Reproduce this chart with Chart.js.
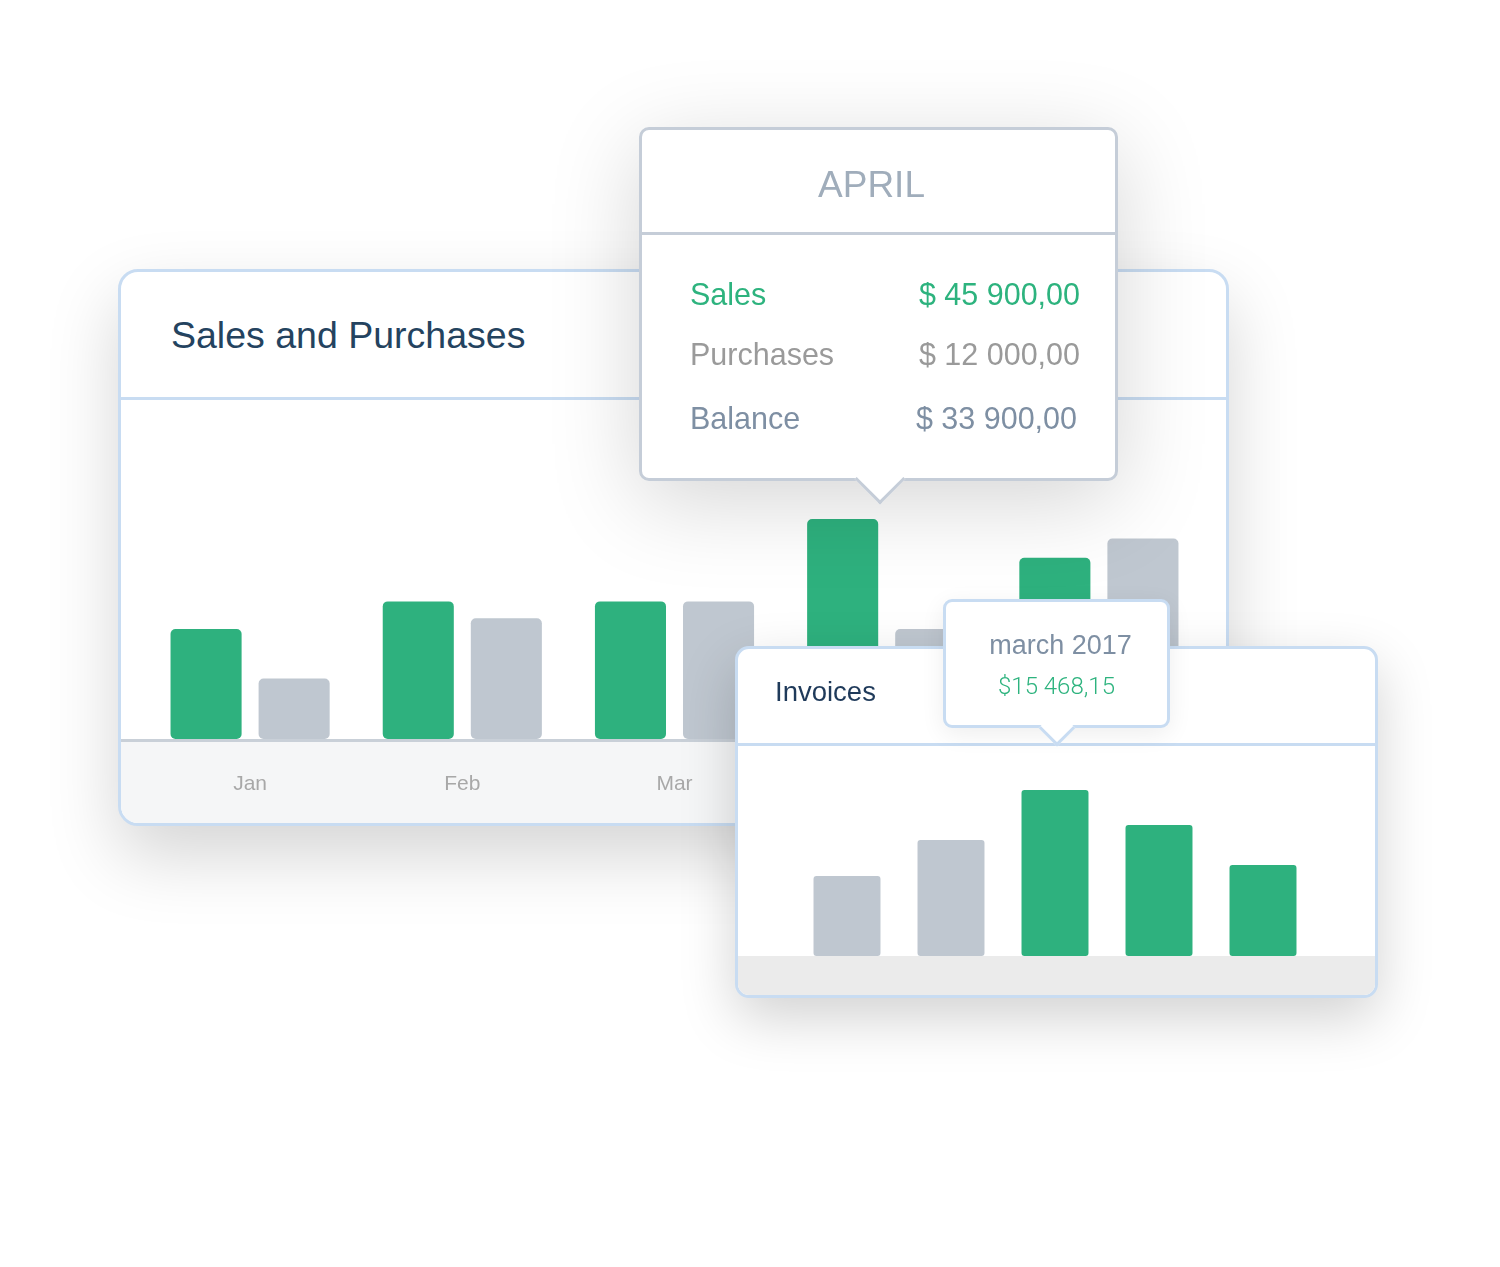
<!DOCTYPE html>
<html>
<head>
<meta charset="utf-8">
<script src="https://cdn.jsdelivr.net/npm/chart.js@4/dist/chart.umd.min.js"></script>
<style>
  html, body { margin:0; padding:0; background:#fff; }
  body { width:1500px; height:1267px; position:relative; overflow:hidden; font-family:"Liberation Sans", Arial, sans-serif; }
  .card { position:absolute; box-sizing:border-box; background:#fff; }
  #main { left:118px; top:269px; width:1111px; height:557px; border:3px solid #c8dcf2; border-radius:20px; box-shadow:0 30px 70px rgba(0,0,0,0.17); overflow:hidden; }
  #main .hdr { position:absolute; left:0; top:0; right:0; height:125px; border-bottom:3px solid #c8dcf2; }
  #main .title { position:absolute; left:50px; top:42px; font-size:37.5px; color:#24435f; white-space:nowrap; }
  #main .band { position:absolute; left:0; right:0; top:467px; bottom:0; background:#f5f6f7; border-top:3px solid #c9d0d8; }
  #mainWrap { position:absolute; left:23px; top:128px; width:1064px; height:423px; }
  #tip { left:639px; top:127px; width:479px; height:354px; border:3px solid #c5cdd8; border-radius:10px; box-shadow:0 20px 90px rgba(0,0,0,0.17); }
  #tip .hdr { position:absolute; left:0; top:0; right:0; height:102px; border-bottom:3px solid #c5cdd8; }
  #tip .head { position:absolute; left:0; right:14px; top:34px; text-align:center; font-size:37px; color:#a0adbb; }
  #tip .row { position:absolute; left:48px; right:35px; font-size:30.5px; }
  #tip .row span { position:absolute; }
  #tip .row .l { left:0; }
  #tip .row .v { right:0; }
  .ptr { position:absolute; background:#fff; transform:rotate(45deg); box-sizing:border-box; }
  #inv { left:735px; top:646px; width:643px; height:352px; border:3px solid #c8dcf2; border-radius:14px; box-shadow:0 20px 55px rgba(0,0,0,0.18); overflow:hidden; }
  #inv .hdr { position:absolute; left:0; top:0; right:0; height:94px; border-bottom:3px solid #c8dcf2; }
  #inv .title { position:absolute; left:37px; top:27px; font-size:27.5px; color:#1f3a5a; }
  #inv .band { position:absolute; left:0; right:0; top:307px; bottom:0; background:#ebebeb; }
  #invWrap { position:absolute; left:57px; top:96px; width:520px; height:211px; }
  #tip2 { left:943px; top:599px; width:227px; height:129px; border:3px solid #c8dcf2; border-radius:9px; box-shadow:0 6px 24px rgba(0,0,0,0.07); }
  #tip2 .a { position:absolute; left:8px; right:0; top:28px; text-align:center; font-size:27px; color:#7e8fa3; }
  #tip2 .b { position:absolute; left:0; right:0; top:70px; text-align:center; font-size:24px; color:#2db37e; font-family:Roboto, "Liberation Sans", sans-serif; font-weight:300; }
</style>
</head>
<body>
<div class="card" id="main">
  <div class="hdr"><div class="title">Sales and Purchases</div></div>
  <div class="band"></div>
  <div id="mainWrap"><canvas id="mainChart" width="1064" height="423"></canvas></div>
</div>

<div class="card" id="tip">
  <div class="hdr"><div class="head" id="tipHead"></div></div>
  <div id="tipRows"></div>
  <div class="ptr" style="width:36px; height:36px; left:220px; top:331px; border-right:3px solid #c5cdd8; border-bottom:3px solid #c5cdd8;"></div>
</div>

<div class="card" id="inv">
  <div class="hdr"><div class="title">Invoices</div></div>
  <div class="band"></div>
  <div id="invWrap"><canvas id="invChart" width="520" height="211"></canvas></div>
</div>

<div class="card" id="tip2">
  <div class="a" id="tip2Head"></div>
  <div class="b" id="tip2Val"></div>
  <div class="ptr" style="width:26px; height:26px; left:98px; top:113px; border-right:3px solid #c8dcf2; border-bottom:3px solid #c8dcf2;"></div>
</div>

<script>
// ---- Sales and Purchases data ----
const months = ["Jan", "Feb", "Mar", "Apr", "May"];
const sales = [22950, 28700, 28700, 45900, 37800];
const purchases = [12600, 25200, 28700, 22950, 41800];

// ---- April tooltip contents ----
const tipTitle = "APRIL";
const tipLabels = ["Sales", "Purchases", "Balance"];
const tipValues = ["$ 45 900,00", "$ 12 000,00", "$ 33 900,00"];

// ---- Invoices data ----
const invoiceMonths = ["january 2017", "february 2017", "march 2017", "april 2017", "may 2017"];
const invoiceValues = [7455, 10810, 15468.15, 12207, 8480];
const invoiceTipLabel = "march 2017";
const invoiceTipValue = "$15 468,15";

const GREEN = "#2eb17e";
const GREY = "#bfc7d0";

// tooltip DOM
document.getElementById("tipHead").textContent = tipTitle;
const rowStyles = [
  {top: 147, color: "#2db37e", vr: 35},
  {top: 207, color: "#9a9a9a", vr: 35},
  {top: 271, color: "#7e8fa3", vr: 38}
];
const rowsEl = document.getElementById("tipRows");
tipLabels.forEach((lab, i) => {
  const r = document.createElement("div");
  r.className = "row";
  r.style.top = rowStyles[i].top + "px";
  r.style.color = rowStyles[i].color;
  r.style.right = rowStyles[i].vr + "px";
  const l = document.createElement("span"); l.className = "l"; l.textContent = lab;
  const v = document.createElement("span"); v.className = "v"; v.textContent = tipValues[i];
  r.appendChild(l); r.appendChild(v);
  rowsEl.appendChild(r);
});
document.getElementById("tip2Head").textContent = invoiceTipLabel;
document.getElementById("tip2Val").textContent = invoiceTipValue;

new Chart(document.getElementById("mainChart"), {
  type: "bar",
  data: {
    labels: months,
    datasets: [
      { label: "Sales", data: sales, backgroundColor: GREEN, borderRadius: 5, borderSkipped: false,
        categoryPercentage: 0.83, barPercentage: 0.807 },
      { label: "Purchases", data: purchases, backgroundColor: GREY, borderRadius: 5, borderSkipped: false,
        categoryPercentage: 0.83, barPercentage: 0.807 }
    ]
  },
  options: {
    responsive: false,
    animation: false,
    layout: { padding: { left: 0, right: 3, top: 0, bottom: 0 } },
    plugins: { legend: { display: false }, tooltip: { enabled: false } },
    scales: {
      y: { display: false, min: 0, max: 70700 },
      x: {
        grid: { display: false },
        border: { display: false },
        ticks: { color: "#a8a8a8", font: { family: "Liberation Sans", size: 21 }, padding: 25 },
        afterFit: (axis) => { axis.height = 84; }
      }
    }
  }
});

new Chart(document.getElementById("invChart"), {
  type: "bar",
  data: {
    labels: invoiceMonths,
    datasets: [
      { label: "Invoices", data: invoiceValues,
        backgroundColor: [GREY, GREY, GREEN, GREEN, GREEN],
        borderRadius: 3, borderSkipped: false,
        categoryPercentage: 1, barPercentage: 0.644 }
    ]
  },
  options: {
    responsive: false,
    animation: false,
    plugins: { legend: { display: false }, tooltip: { enabled: false } },
    scales: {
      y: { display: false, min: 0, max: 19660 },
      x: { display: false }
    }
  }
});
</script>
</body>
</html>
